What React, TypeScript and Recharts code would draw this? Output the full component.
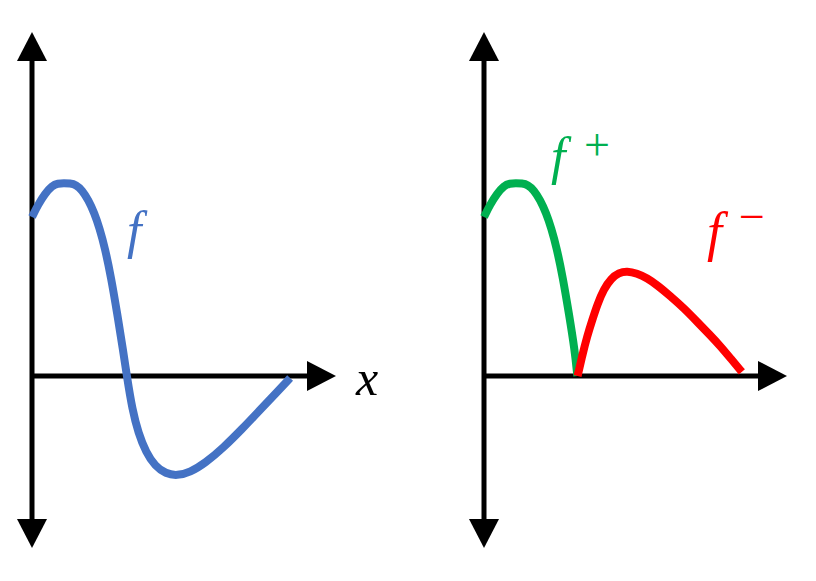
import { LineChart, Line, XAxis, YAxis, ReferenceLine } from 'recharts';

// f sampled along x (axis units: x 0..10, y -5..10)
const fPoints = [
    { x: 0, y: 4.62 }, { x: 0.2, y: 4.98 }, { x: 0.43, y: 5.3 }, { x: 0.66, y: 5.53 },
    { x: 0.85, y: 5.6 }, { x: 1.05, y: 5.6 }, { x: 1.25, y: 5.6 }, { x: 1.45, y: 5.56 },
    { x: 1.65, y: 5.4 }, { x: 1.85, y: 5.12 }, { x: 2.05, y: 4.74 }, { x: 2.22, y: 4.3 },
    { x: 2.4, y: 3.72 }, { x: 2.6, y: 2.87 }, { x: 2.8, y: 1.83 }, { x: 3.0, y: 0.72 },
    { x: 3.12, y: 0 }, { x: 3.3, y: -0.98 }, { x: 3.5, y: -1.66 }, { x: 3.75, y: -2.22 },
    { x: 4.05, y: -2.62 }, { x: 4.4, y: -2.84 }, { x: 4.77, y: -2.9 }, { x: 5.2, y: -2.8 },
    { x: 5.7, y: -2.53 }, { x: 6.3, y: -2.08 }, { x: 6.9, y: -1.55 }, { x: 7.5, y: -0.99 },
    { x: 8.0, y: -0.52 }, { x: 8.49, y: -0.06 },
];

// positive part f+
const fPlusPoints = [
    { x: 0, y: 4.62 }, { x: 0.2, y: 4.98 }, { x: 0.43, y: 5.3 }, { x: 0.66, y: 5.53 },
    { x: 0.85, y: 5.6 }, { x: 1.05, y: 5.6 }, { x: 1.25, y: 5.6 }, { x: 1.45, y: 5.56 },
    { x: 1.65, y: 5.4 }, { x: 1.85, y: 5.12 }, { x: 2.05, y: 4.74 }, { x: 2.22, y: 4.3 },
    { x: 2.4, y: 3.72 }, { x: 2.6, y: 2.87 }, { x: 2.8, y: 1.83 }, { x: 3.0, y: 0.72 },
    { x: 3.08, y: 0 },
];

// negative part f-
const fMinusPoints = [
    { x: 3.09, y: 0 }, { x: 3.25, y: 0.62 }, { x: 3.4, y: 1.14 }, { x: 3.57, y: 1.62 },
    { x: 3.75, y: 2.1 }, { x: 3.95, y: 2.52 }, { x: 4.2, y: 2.84 }, { x: 4.45, y: 3.0 },
    { x: 4.72, y: 3.05 }, { x: 5.05, y: 2.98 }, { x: 5.38, y: 2.85 }, { x: 5.75, y: 2.62 },
    { x: 6.14, y: 2.33 }, { x: 6.6, y: 1.97 }, { x: 7.03, y: 1.58 }, { x: 7.45, y: 1.2 },
    { x: 7.79, y: 0.88 }, { x: 8.15, y: 0.5 }, { x: 8.51, y: 0.12 },
];

const X_DOMAIN = [0, 10];
const Y_DOMAIN = [-5, 10];

const HEAD = 29;
const HALF = 15;

// axis shaft with arrowheads, drawn from the reference line's end points
const arrowShape = (both: boolean) => (props: any) => {
    const { x1, y1, x2, y2 } = props;
    const len = Math.hypot(x2 - x1, y2 - y1);
    const ux = (x2 - x1) / len;
    const uy = (y2 - y1) / len;
    const px = -uy;
    const py = ux;
    const head = (tx: number, ty: number, dx: number, dy: number) => {
        const bx = tx - dx * HEAD;
        const by = ty - dy * HEAD;
        return `${tx},${ty} ${bx + px * HALF},${by + py * HALF} ${bx - px * HALF},${by - py * HALF}`;
    };
    const sx = both ? x1 + ux * HEAD : x1;
    const sy = both ? y1 + uy * HEAD : y1;
    return (
        <g>
            <line x1={sx} y1={sy} x2={x2 - ux * HEAD} y2={y2 - uy * HEAD} stroke="#000" strokeWidth={5} />
            <polygon points={head(x2, y2, ux, uy)} fill="#000" />
            {both && <polygon points={head(x1, y1, -ux, -uy)} fill="#000" />}
        </g>
    );
};

const Panel = ({ left, width, margin, children }: any) => (
    <div style={{ position: 'absolute', left, top: 0 }}>
        <LineChart width={width} height={581} margin={margin}>
            <XAxis type="number" dataKey="x" domain={X_DOMAIN} hide />
            <YAxis type="number" dataKey="y" domain={Y_DOMAIN} hide />
            <ReferenceLine segment={[{ x: 0, y: -5 }, { x: 0, y: 10 }]} shape={arrowShape(true)} />
            <ReferenceLine segment={[{ x: 0, y: 0 }, { x: 10, y: 0 }]} shape={arrowShape(false)} />
            {children}
        </LineChart>
    </div>
);

const mathFont = '"Liberation Serif", "Times New Roman", serif';

export default function App() {
    return (
        <div style={{ position: 'absolute', left: 0, top: 0, width: 816, height: 581, background: '#fff' }}>
            <Panel left={0} width={400} margin={{ top: 32, right: 64, bottom: 33, left: 32 }}>
                <Line data={fPoints} dataKey="y" type="basis" stroke="#4472c4" strokeWidth={8} dot={false} isAnimationActive={false} />
            </Panel>
            <Panel left={400} width={416} margin={{ top: 32, right: 29, bottom: 33, left: 84 }}>
                <Line data={fPlusPoints} dataKey="y" type="basis" stroke="#00b050" strokeWidth={8} dot={false} isAnimationActive={false} />
                <Line data={fMinusPoints} dataKey="y" type="basis" stroke="#ff0000" strokeWidth={8} dot={false} isAnimationActive={false} />
            </Panel>
            <svg width={816} height={581} style={{ position: 'absolute', left: 0, top: 0, pointerEvents: 'none' }}>
                <text x={127} y={248} fontFamily={mathFont} fontStyle="italic" fontSize={52} fill="#4472c4">f</text>
                <text x={356} y={395} fontFamily={mathFont} fontStyle="italic" fontSize={50} fill="#000">x</text>
                <text x={551} y={174} fontFamily={mathFont} fontStyle="italic" fontSize={52} fill="#00b050">f</text>
                <text x={584} y={160} fontFamily={mathFont} fontSize={46} fill="#00b050">+</text>
                <text x={707} y={250} fontFamily={mathFont} fontStyle="italic" fontSize={54} fill="#ff0000">f</text>
                <text x={739} y={232} fontFamily={mathFont} fontSize={46} fill="#ff0000">−</text>
            </svg>
        </div>
    );
}
